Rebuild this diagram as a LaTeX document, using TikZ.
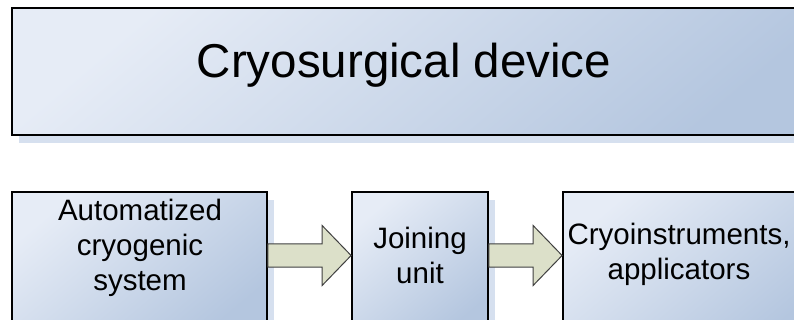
\documentclass[tikz,border=0pt]{standalone}
\usepackage{fontspec}
\setmainfont{Liberation Sans}
\usetikzlibrary{shadows,calc}
\definecolor{boxlight}{HTML}{E6ECF6}
\definecolor{boxdark}{HTML}{B4C6DF}
\definecolor{shadowblue}{HTML}{D6E0EF}
\definecolor{arrowfill}{HTML}{DCE0C9}
\definecolor{arrowline}{HTML}{404040}
\tikzset{
  blockbox/.style={draw=black, line width=1.8pt, rectangle, inner sep=0pt,
    top color=boxlight, bottom color=boxdark, shading angle=40,
    drop shadow={shadow xshift=7pt, shadow yshift=-8pt, fill=shadowblue, opacity=1}},
  bigtext/.style={font=\fontsize{47.5}{57}\selectfont, inner sep=0pt},
  smalltext/.style={font=\fontsize{29.5}{35}\selectfont, align=center, inner sep=0pt},
  flowarrow/.style={draw=arrowline, fill=arrowfill, line width=1pt, line join=miter}
}
\newcommand{\blockarrow}[2]{%
  \coordinate (s) at ($(#1.east)+(0,-7.5)$);
  \coordinate (t) at ($(#2.west)+(0,-7.5)$);
  \draw[flowarrow] ($(s)+(0,-11.7)$) -- ($(t)+(-29,-11.7)$) -- ($(t)+(-29,-30)$)
    -- (t) -- ($(t)+(-29,30)$) -- ($(t)+(-29,11.7)$) -- ($(s)+(0,11.7)$) -- cycle;
}
\begin{document}
\begin{tikzpicture}[x=1pt,y=-1pt]
\useasboundingbox (0,0) rectangle (794,320);
\clip (0,0) rectangle (794,320);
\fill[white] (0,0) rectangle (794,320);
% top box
\node[blockbox, minimum width=818pt, minimum height=127pt] (top) at (421,71.5) {};
\node[bigtext, anchor=base] (toplabel) at (404,78) {Cryosurgical device};
% bottom boxes
\node[blockbox, minimum width=255pt, minimum height=142pt] (b1) at (139.5,263) {};
\node[blockbox, minimum width=136pt, minimum height=142pt] (b2) at (420,263) {};
\node[blockbox, minimum width=267pt, minimum height=142pt] (b3) at (696.5,263) {};
\node[smalltext] (l1) at (140,248) {Automatized\\cryogenic\\system};
\node[smalltext] (l2) at (420,255) {Joining\\unit};
\node[smalltext] (l3) at (679,254) {Cryoinstruments,\\applicators};
% arrows
\blockarrow{b1}{b2}
\blockarrow{b2}{b3}
\end{tikzpicture}
\end{document}
